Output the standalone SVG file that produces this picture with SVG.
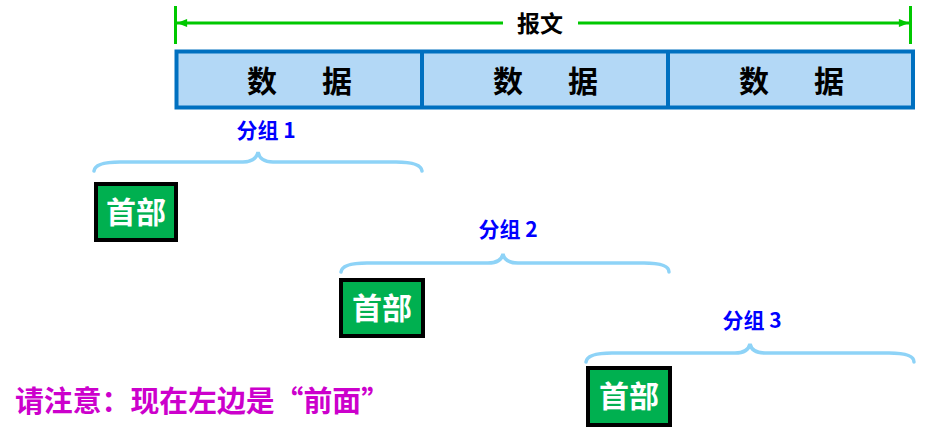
<svg xmlns="http://www.w3.org/2000/svg" width="940" height="438" viewBox="0 0 940 438">
<style>
text{font-family:"Noto Sans CJK SC","Noto Sans",sans-serif;font-weight:bold}
.data{font-size:30px;fill:#000;text-anchor:middle}
.hdr rect{fill:#00B050;stroke:#000;stroke-width:4}
.hdr text{font-size:30px;fill:#fff;text-anchor:middle}
.lbl{font-size:21px;fill:#0000FF;text-anchor:middle}
.brace{fill:none;stroke:#8ED3F7;stroke-width:3.5;stroke-linecap:round}
.green{stroke:#00C800;stroke-width:3}
</style>
<defs>
<marker id="ah" viewBox="0 0 10 8" refX="10" refY="4" markerWidth="5" markerHeight="2.7" orient="auto-start-reverse" markerUnits="strokeWidth">
<path d="M0,0 L10,4 L0,8 Z" fill="#00C800"/>
</marker>
</defs>
<g id="message">
<line class="green" x1="175.5" y1="6" x2="175.5" y2="44"/>
<line class="green" x1="910.5" y1="6" x2="910.5" y2="44"/>
<g id="connectors">
<line class="green" x1="503" y1="23" x2="177" y2="23" marker-end="url(#ah)"/>
<line class="green" x1="578" y1="23" x2="909" y2="23" marker-end="url(#ah)"/>
</g>
<text x="540" y="32" style="font-size:23px;fill:#000;text-anchor:middle">报文</text>
</g>
<g id="data">
<rect x="176.5" y="51.5" width="736.5" height="56" fill="#B3D8F6" stroke="#0070C0" stroke-width="4"/>
<line x1="422" y1="51" x2="422" y2="108" stroke="#0070C0" stroke-width="4"/>
<line x1="668" y1="51" x2="668" y2="108" stroke="#0070C0" stroke-width="4"/>
<text class="data" x="262" y="92">数</text><text class="data" x="337" y="92">据</text>
<text class="data" x="508" y="92">数</text><text class="data" x="583" y="92">据</text>
<text class="data" x="754" y="92">数</text><text class="data" x="829" y="92">据</text>
</g>
<g id="group1">
<text class="lbl" x="266" y="138">分组 1</text>
<path class="brace" d="M94,171 Q95,162 120,162 L243,162 Q256,162 258,152 Q260,162 273,162 L396,162 Q421,162 422,171"/>
<g class="hdr"><rect x="96" y="184" width="80" height="56"/><text x="136" y="223">首部</text></g>
</g>
<g id="group2">
<text class="lbl" x="508" y="237">分组 2</text>
<path class="brace" d="M341,272 Q342,263 367,263 L488,263 Q501,263 503,254 Q505,263 518,263 L644,263 Q669,263 669,272"/>
<g class="hdr"><rect x="341" y="280" width="82" height="56"/><text x="382" y="319">首部</text></g>
</g>
<g id="group3">
<text class="lbl" x="752" y="328">分组 3</text>
<path class="brace" d="M586,362 Q587,353 612,353 L735,353 Q748,353 750,344 Q752,353 765,353 L889,353 Q914,353 914,362"/>
<g class="hdr"><rect x="588" y="368" width="82" height="57"/><text x="629" y="407">首部</text></g>
</g>
<text id="note" x="15" y="412" textLength="375" lengthAdjust="spacingAndGlyphs" style="font-size:29px;fill:#CC00CC">请注意：现在左边是“前面”</text>
</svg>
